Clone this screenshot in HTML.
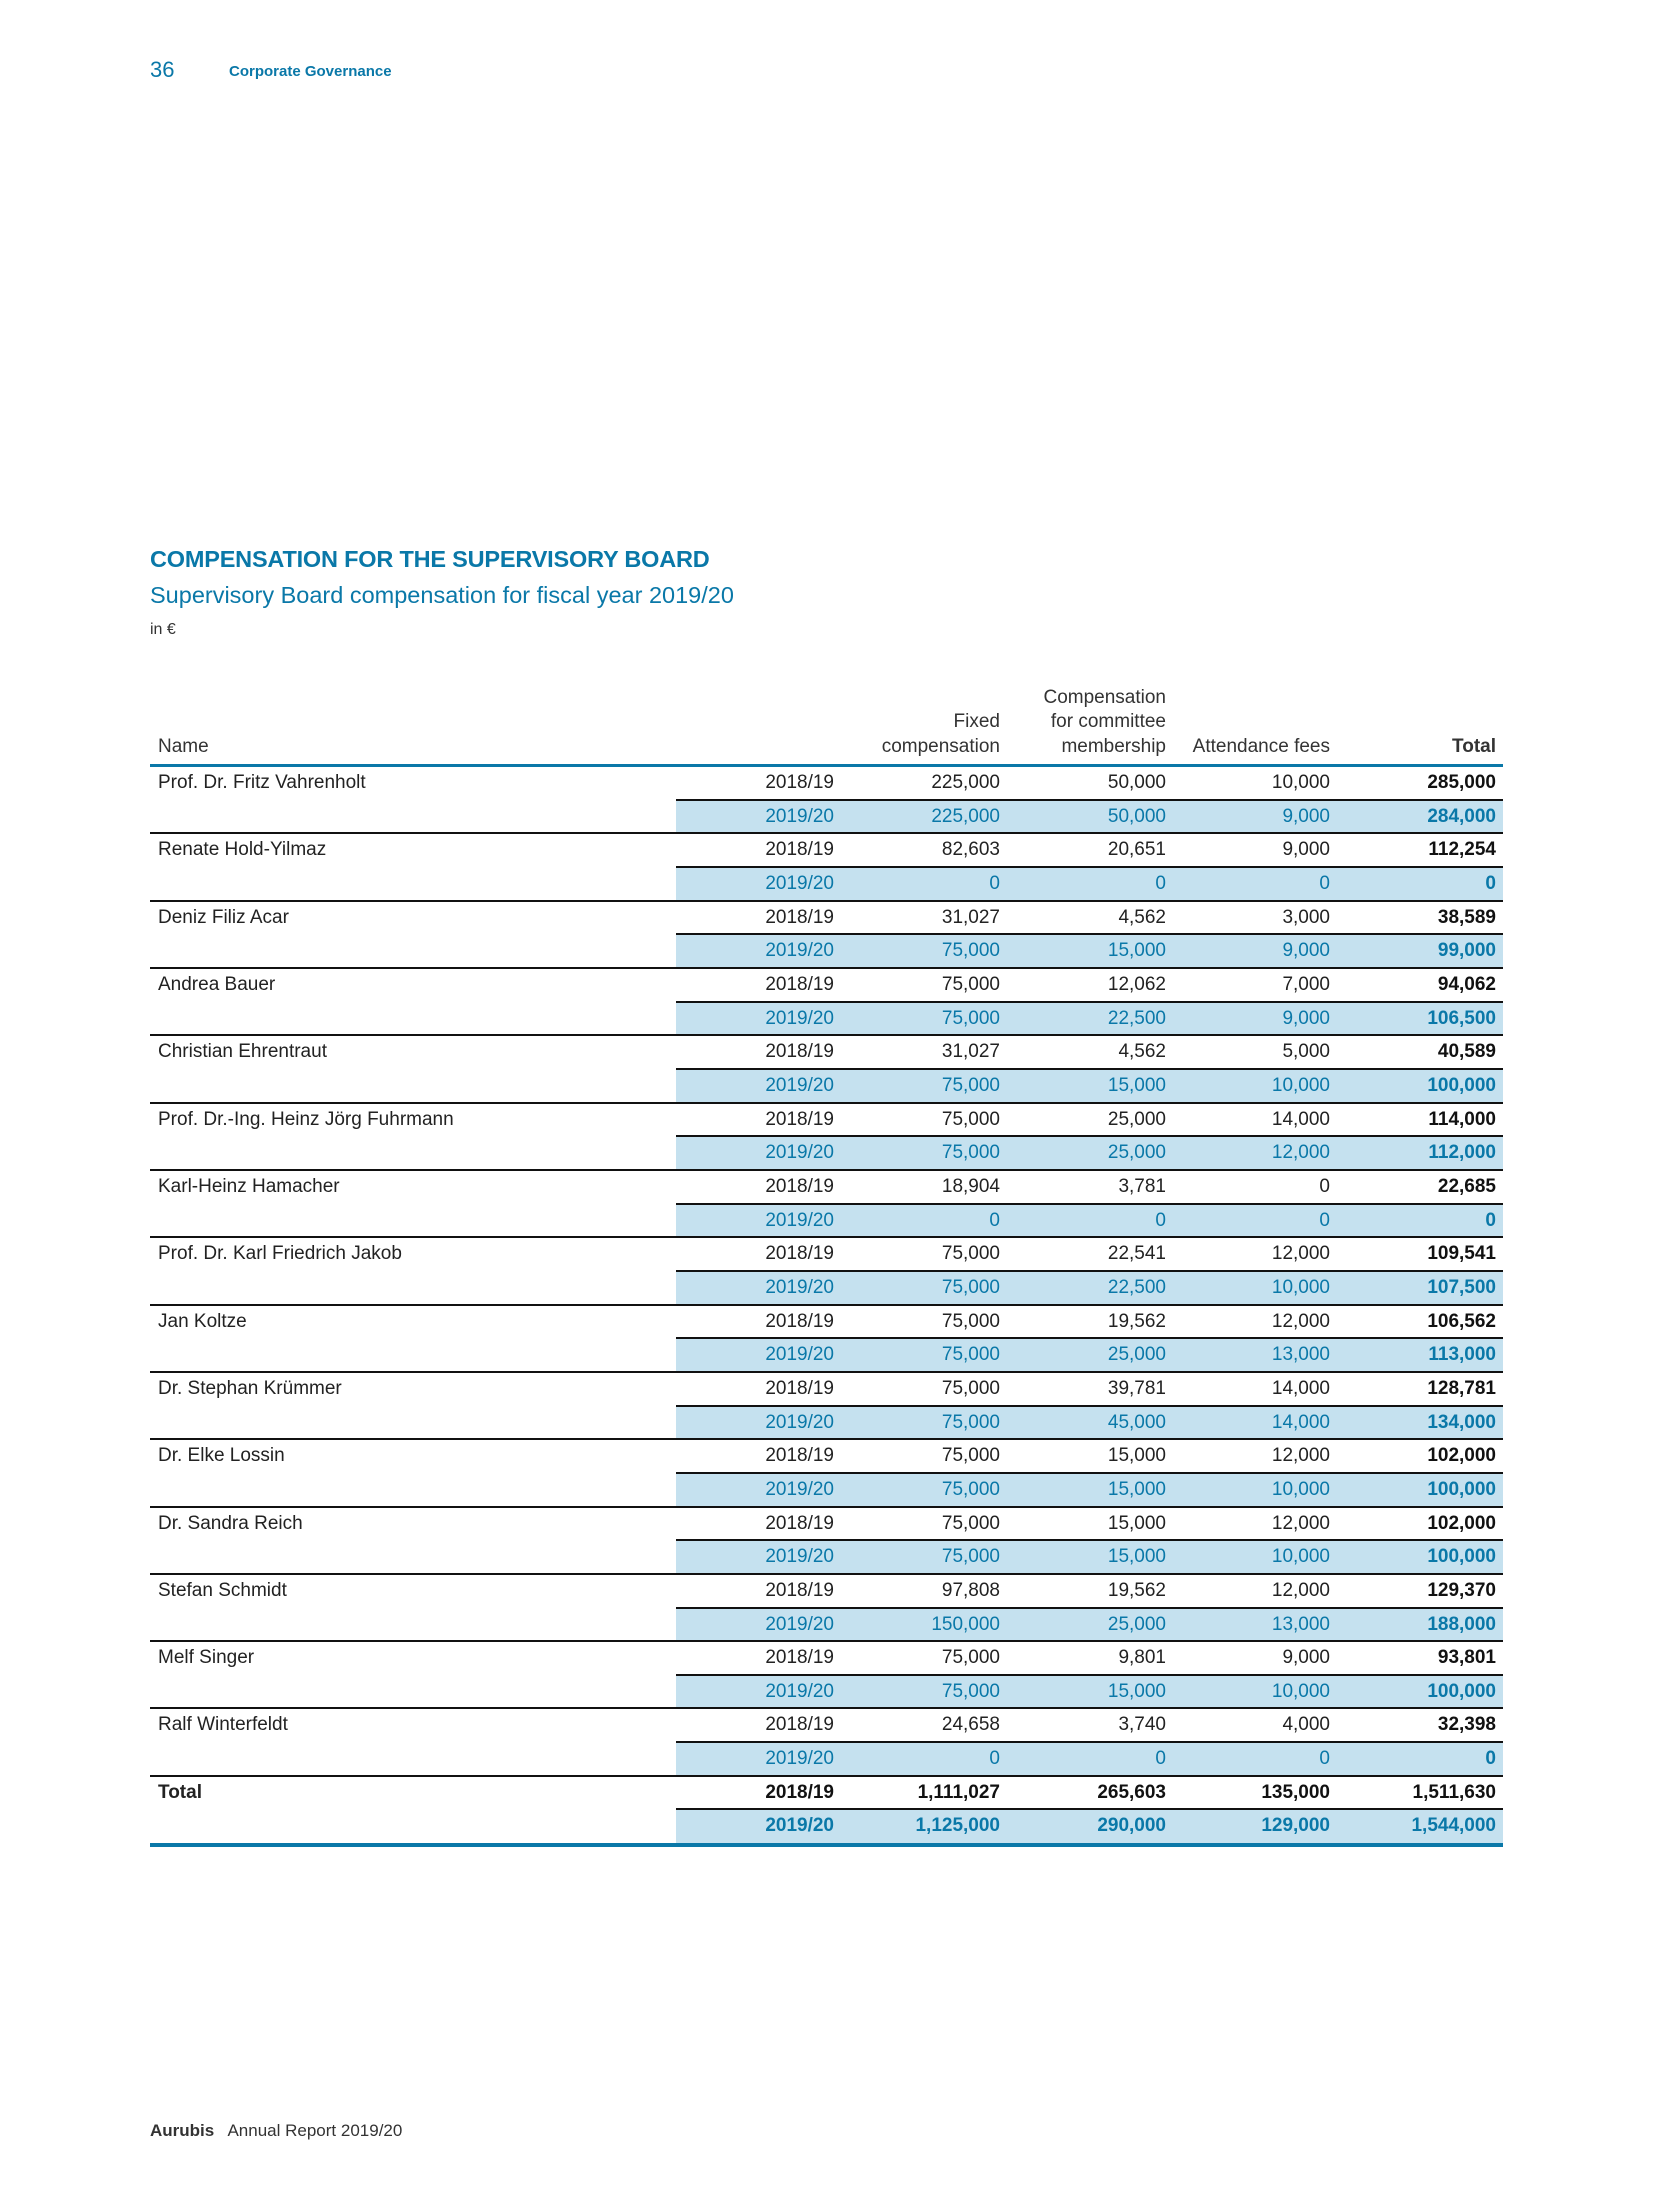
<!DOCTYPE html>
<html><head><meta charset="utf-8"><style>
body{margin:0;width:1654px;height:2205px;background:#fff;position:relative;font-family:"Liberation Sans",sans-serif;overflow:hidden}
.a{position:absolute;white-space:nowrap}
.t{position:absolute;white-space:nowrap;font-size:19px;line-height:34px;color:#222}
.r{text-align:right}
.blue{color:#0a78a8}
.b{font-weight:bold}
</style></head><body>
<div class="a blue" style="left:150px;top:57px;font-size:22px">36</div>
<div class="a blue b" style="left:229px;top:63px;font-size:15px">Corporate Governance</div>
<div class="a blue b" style="left:150px;top:546px;font-size:23.5px;letter-spacing:-0.2px">COMPENSATION FOR THE SUPERVISORY BOARD</div>
<div class="a blue" style="left:150px;top:582px;font-size:23.5px">Supervisory Board compensation for fiscal year 2019/20</div>
<div class="a" style="left:150px;top:621px;font-size:16px;color:#333">in €</div>
<div id="tbl"></div>
<div class="a" style="left:150px;top:2121px;font-size:17px;color:#333"><b>Aurubis</b>&nbsp;&nbsp; Annual Report 2019/20</div>
<script>
const names=["Prof. Dr. Fritz Vahrenholt","Renate Hold-Yilmaz","Deniz Filiz Acar","Andrea Bauer","Christian Ehrentraut","Prof. Dr.-Ing. Heinz Jörg Fuhrmann","Karl-Heinz Hamacher","Prof. Dr. Karl Friedrich Jakob","Jan Koltze","Dr. Stephan Krümmer","Dr. Elke Lossin","Dr. Sandra Reich","Stefan Schmidt","Melf Singer","Ralf Winterfeldt","Total"];
const years=["2018/19","2019/20"];
const fixed19=["225,000","82,603","31,027","75,000","31,027","75,000","18,904","75,000","75,000","75,000","75,000","75,000","97,808","75,000","24,658","1,111,027"];
const fixed20=["225,000","0","75,000","75,000","75,000","75,000","0","75,000","75,000","75,000","75,000","75,000","150,000","75,000","0","1,125,000"];
const comm19=["50,000","20,651","4,562","12,062","4,562","25,000","3,781","22,541","19,562","39,781","15,000","15,000","19,562","9,801","3,740","265,603"];
const comm20=["50,000","0","15,000","22,500","15,000","25,000","0","22,500","25,000","45,000","15,000","15,000","25,000","15,000","0","290,000"];
const att19=["10,000","9,000","3,000","7,000","5,000","14,000","0","12,000","12,000","14,000","12,000","12,000","12,000","9,000","4,000","135,000"];
const att20=["9,000","0","9,000","9,000","10,000","12,000","0","10,000","13,000","14,000","10,000","10,000","13,000","10,000","0","129,000"];
const tot19=["285,000","112,254","38,589","94,062","40,589","114,000","22,685","109,541","106,562","128,781","102,000","102,000","129,370","93,801","32,398","1,511,630"];
const tot20=["284,000","0","99,000","106,500","100,000","112,000","0","107,500","113,000","134,000","100,000","100,000","188,000","100,000","0","1,544,000"];
const L=150,R=1503,HX=676,TOP=766,RH=33.66;
const colR=[834,1000,1166,1330,1496];
const T=document.getElementById('tbl');
function add(html,style,cls,name){const d=document.createElement('div');d.className=cls;d.style.cssText=style;d.innerHTML=html;


T.appendChild(d);return d;}
const hdr=[["Name",L+8,null],["Fixed<br>compensation",null,colR[1]],["Compensation<br>for committee<br>membership",null,colR[2]],["Attendance fees",null,colR[3]],["<b>Total</b>",null,colR[4]]];
hdr.forEach((h,i)=>{const lines=h[0].split('<br>').length;const top=759-lines*24.5;
let s='top:'+top+'px;line-height:24.5px;font-size:19px;color:#333;';
if(h[1]!=null)s+='left:'+h[1]+'px;';else s+='right:'+(1654-h[2])+'px;text-align:right;';
add(h[0],s,'a','header-'+i);});
add('','left:'+L+'px;top:764px;width:'+(R-L)+'px;height:3px;background:#0a78a8','a','header-rule');
names.forEach((n,i)=>{
  const last=i===names.length-1;
  const y1=TOP+i*2*RH,y2=y1+RH;
  add('','left:'+HX+'px;top:'+y2+'px;width:'+(R-HX)+'px;height:'+RH+'px;background:#c5e1ef','a','highlight-row');
  if(i>0)add('','left:'+L+'px;top:'+(y1-1)+'px;width:'+(R-L)+'px;height:2px;background:#111','a','row-rule');
  add('','left:'+HX+'px;top:'+(y2-1)+'px;width:'+(R-HX)+'px;height:2px;background:#111','a','sub-rule');
  add(n,'left:'+(L+8)+'px;top:'+y1+'px;'+(last?'font-weight:bold;':''),'t','name-'+i);
  const v1=[years[0],fixed19[i],comm19[i],att19[i],tot19[i]];
  const v2=[years[1],fixed20[i],comm20[i],att20[i],tot20[i]];
  v1.forEach((v,j)=>add(v,'right:'+(1654-colR[j])+'px;top:'+y1+'px;'+((last||j===4)?'font-weight:bold;color:#111;':''),'t r','value-2018-'+i+'-'+j));
  v2.forEach((v,j)=>add(v,'right:'+(1654-colR[j])+'px;top:'+y2+'px;'+((last||j===4)?'font-weight:bold;':''),'t r blue','value-2019-'+i+'-'+j));
});
add('','left:'+L+'px;top:'+(TOP+names.length*2*RH)+'px;width:'+(R-L)+'px;height:4px;background:#0a78a8','a','bottom-rule');
</script>
</body></html>
